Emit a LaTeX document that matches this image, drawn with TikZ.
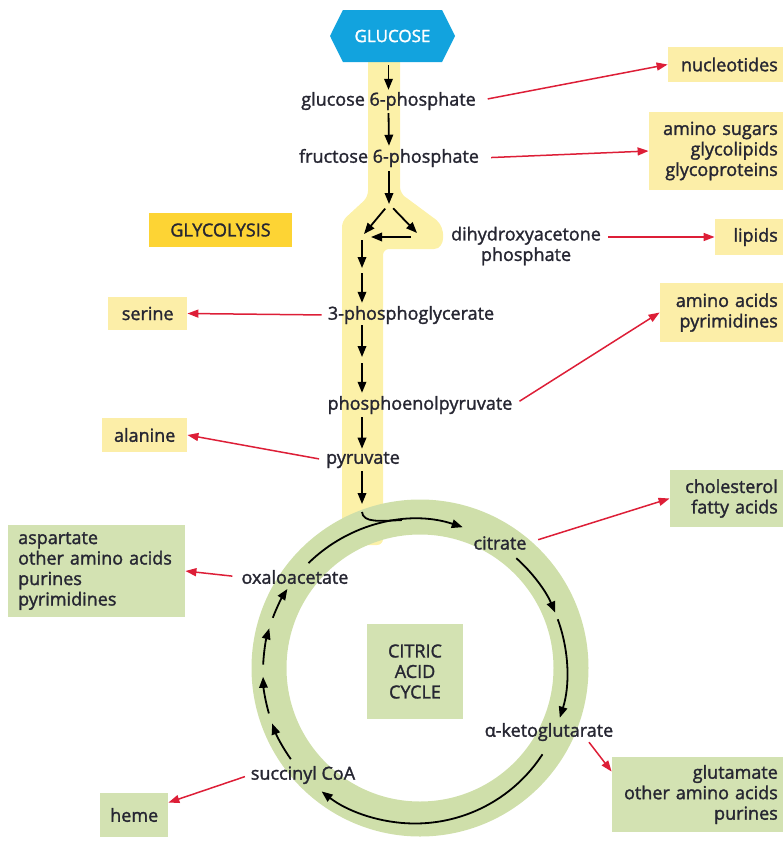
\documentclass[tikz,border=0pt]{standalone}
\usepackage{fontspec}
\setmainfont{Open Sans}[BoldFont={Open Sans}, BoldFeatures={FakeBold=1.6}]
\usetikzlibrary{arrows.meta,shapes.symbols,calc}

\definecolor{glccyan}{RGB}{18,163,222}
\definecolor{bandyellow}{RGB}{252,241,168}
\definecolor{boxyellow}{RGB}{252,238,168}
\definecolor{gold}{RGB}{253,212,52}
\definecolor{ringgreen}{RGB}{207,223,170}
\definecolor{boxgreen}{RGB}{211,226,178}
\definecolor{branchred}{RGB}{221,30,55}
\definecolor{ink}{RGB}{38,38,50}

\begin{document}
\begin{tikzpicture}[x=1pt,y=1pt,yscale=-1,
  every node/.style={font=\fontsize{18}{20.5}\selectfont\bfseries, text=ink},
  met/.style={inner sep=1pt},
  ybox/.style={fill=boxyellow, inner xsep=5pt, inner ysep=0pt},
  gbox/.style={fill=boxgreen, inner xsep=5pt, inner ysep=0pt},
  flow/.style={line width=1.8pt, -{Triangle[length=11pt,width=8.5pt]}},
  branch/.style={draw=branchred, line width=1.5pt, -{Triangle[length=11pt,width=8pt]}}]
\useasboundingbox (0,0) rectangle (783,846);

% glycolysis band
\fill[bandyellow, rounded corners=6pt] (368,50) -- (368,197) -- (342,221) -- (342,545)
  -- (383,545) -- (383,249) -- (428,249) .. controls (446,249) and (446,227) .. (431,216)
  -- (400,193) -- (400,50) -- cycle;

% citric acid cycle ring
\draw[ringgreen, line width=35pt] (420,668) circle[radius=151];

% start
\node[signal, signal to=east and west, signal pointer angle=127, fill=glccyan, text=white,
  minimum width=125pt, minimum height=52pt, inner sep=0pt, font=\fontsize{17}{20}\selectfont\bfseries]
  (glc) at (392.5,36) {GLUCOSE};

% metabolites
\node[met] (g6p) at (388.5,101) {glucose 6-phosphate};
\node[met] (f6p) at (389,158) {fructose 6-phosphate};
\node[met, align=center] (dhap) at (526,246) {dihydroxyacetone\\phosphate};
\node[met] (pg3) at (411,315) {3-phosphoglycerate};
\node[met] (pep) at (420,405) {phosphoenolpyruvate};
\node[met] (pyr) at (363,460) {pyruvate};
\node[met] (cit) at (500,543) {citrate};
\node[met] (oaa) at (295,577) {oxaloacetate};
\node[met] (akg) at (549,732) {α-ketoglutarate};
\node[met] (suc) at (303,775) {succinyl CoA};

% labels
\node[fill=gold, minimum width=143pt, minimum height=34pt, inner sep=0pt] (glyc) at (220.5,230) {GLYCOLYSIS};
\node[gbox, minimum width=96pt, minimum height=95pt, align=center] (tca) at (415,671.5) {CITRIC\\ACID\\CYCLE};

% products, right
\node[ybox, anchor=east, text width=105pt, align=right, minimum height=35pt] (nuc) at (783,64.5) {nucleotides};
\node[ybox, anchor=east, text width=124pt, align=right, minimum height=78pt] (sug) at (783,151) {amino sugars\\glycolipids\\glycoproteins};
\node[ybox, anchor=east, text width=58pt, align=right, minimum height=36pt] (lip) at (783,237) {lipids};
\node[ybox, anchor=east, text width=113pt, align=right, minimum height=59pt] (aac) at (783,312.5) {amino acids\\pyrimidines};
\node[gbox, anchor=east, text width=103pt, align=right, minimum height=57pt] (chol) at (783,498.5) {cholesterol\\fatty acids};
\node[gbox, anchor=east, text width=161pt, align=right, minimum height=75pt] (glu) at (783,794.5) {glutamate\\other amino acids\\purines};

% products, left
\node[ybox, anchor=west, minimum width=79pt, minimum height=33pt] (ser) at (108,313.5) {serine};
\node[ybox, anchor=west, minimum width=85pt, minimum height=34pt] (ala) at (102,435) {alanine};
\node[gbox, anchor=west, inner xsep=10pt, text width=157pt, align=left, minimum height=92pt] (asp) at (8,571) {aspartate\\other amino acids\\purines\\pyrimidines};
\node[gbox, anchor=west, minimum width=68pt, minimum height=44pt] (heme) at (100,815) {heme};

% glycolysis steps
\coordinate (fork) at (389,204);
\coordinate (tril) at (364,234);
\coordinate (trir) at (417,233);
\coordinate (loopr) at (411,237);
\coordinate (loopl) at (371,237);
\coordinate (col) at (362,240);
\coordinate (mid1) at (362,270);
\coordinate (mid2) at (362,360);
\coordinate (entry) at (362,512);
\draw[flow, shorten <=3pt, shorten >=1pt] (glc.south -| g6p.north) -- (g6p.north);
\draw[flow, shorten <=2pt, shorten >=2pt] (g6p.south) -- (f6p.north);
\draw[flow, shorten <=3pt] (f6p.south) -- (fork);
\draw[flow, shorten <=6pt] (fork) -- (tril);
\draw[flow, shorten <=6pt] (fork) -- (trir);
\draw[flow] (loopr) -- (loopl);
\draw[flow, shorten >=2pt] (col) -- (mid1);
\draw[flow, shorten <=3pt, shorten >=2pt] (mid1) -- (col |- pg3.north);
\draw[flow, shorten >=3pt] (col |- pg3.south) -- (mid2);
\draw[flow, shorten <=3pt, shorten >=2pt] (mid2) -- (col |- pep.north);
\draw[flow, shorten <=2pt, shorten >=2pt] (col |- pep.south) -- (col |- pyr.north);
\draw[flow, shorten <=2pt, shorten >=8pt] (col |- pyr.south) -- (entry);

% cycle
\draw[line width=1.8pt] (entry) .. controls (363,523) and (380,521) .. ($(tca.center)+(265:152)$);
\foreach \a/\b in {225.5/288.3, 311.8/337.2, 339.9/377.7, 33/127.9, 144.8/160, 164/178, 182.6/196.5, 200.7/212.9}
  \draw[flow] ($(tca.center)+(\a:152)$) arc[start angle=\a, end angle=\b, radius=152];

% branches
\draw[branch, shorten <=11pt] (g6p.east) -- (nuc.west);
\draw[branch, shorten <=11pt] (f6p.east) -- (sug.west);
\draw[branch, shorten <=6pt] (dhap.east |- lip.west) -- (lip.west);
\draw[branch, shorten <=5pt] (pg3.west) -- (ser.east);
\draw[branch, shorten <=7pt] (pep.east) -- (aac.west);
\draw[branch, shorten <=6pt] (pyr.west) -- (ala.east);
\draw[branch, shorten <=11pt] (cit.east) -- (chol.west);
\draw[branch, shorten <=8pt] (oaa.west) -- (asp.east);
\draw[branch] ([xshift=40pt]akg.south) -- (glu.165);
\draw[branch, shorten <=5pt] (suc.west) -- (heme.20);

\end{tikzpicture}
\end{document}
